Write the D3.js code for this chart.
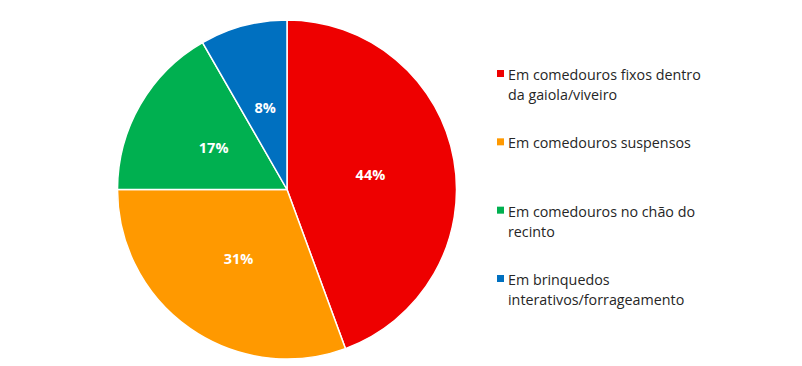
<!DOCTYPE html>
<html>
<head>
<meta charset="utf-8">
<script src="https://cdn.jsdelivr.net/npm/d3@7"></script>
<style>
  html, body { margin: 0; padding: 0; background: #fff; }
  svg { display: block; }
  .slice-label { font-family: "Open Sans", Inter, sans-serif; font-weight: 700; font-size: 14.5px; fill: #fff; }
  .legend-text { font-family: "Open Sans", Inter, sans-serif; font-size: 14.3px; fill: #262626; }
</style>
</head>
<body>
<svg id="chart"></svg>
<script>
/* ===============================
   Data
================================ */

const categories = [
  ["Em comedouros fixos dentro", "da gaiola/viveiro"],
  ["Em comedouros suspensos"],
  ["Em comedouros no chão do", "recinto"],
  ["Em brinquedos", "interativos/forrageamento"]
];
const shares = [44.4, 30.6, 16.7, 8.3];
const colors = ["#EE0000", "#FF9900", "#00B050", "#0070C0"];

/* ===============================
   Setup
================================ */

const width = 802;
const height = 366;
const cx = 287, cy = 189.5, radius = 169.5;

const svg = d3.select("#chart")
  .attr("width", width)
  .attr("height", height);

const total = d3.sum(shares);
const pie = d3.pie().sort(null)(shares);
const arc = d3.arc().innerRadius(0).outerRadius(radius);
const labelArc = d3.arc().innerRadius(radius * 0.5).outerRadius(radius * 0.5);

const g = svg.append("g").attr("transform", `translate(${cx},${cy})`);

/* -------- SLICES -------- */

g.selectAll("path.slice")
  .data(pie)
  .join("path")
  .attr("class", "slice")
  .attr("d", arc)
  .attr("fill", (d, i) => colors[i])
  .attr("stroke", "#fff")
  .attr("stroke-width", 1.5)
  .attr("stroke-linejoin", "round");

g.selectAll("text.slice-label")
  .data(pie)
  .join("text")
  .attr("class", "slice-label")
  .attr("text-anchor", "middle")
  .attr("dominant-baseline", "central")
  .attr("transform", d => `translate(${labelArc.centroid(d)})`)
  .text(d => Math.round(d.data / total * 100) + "%");

/* -------- LEGEND -------- */

// first line of each entry sits on an even step
const legendY = d3.scalePoint()
  .domain(d3.range(categories.length))
  .range([74, 279]);

const lineH = 20;

const item = svg.selectAll("g.legend")
  .data(categories)
  .join("g")
  .attr("class", "legend")
  .attr("transform", (d, i) => `translate(497,${legendY(i)})`);

item.append("rect")
  .attr("x", 0)
  .attr("y", -4)
  .attr("width", 7)
  .attr("height", 7)
  .attr("fill", (d, i) => colors[i]);

item.each(function(lines) {
  const t = d3.select(this).append("text")
    .attr("class", "legend-text")
    .attr("x", 11)
    .attr("y", 0)
    .attr("dominant-baseline", "central");
  lines.forEach((s, k) => {
    t.append("tspan").attr("x", 11).attr("dy", k === 0 ? 0 : lineH).text(s);
  });
});
</script>
</body>
</html>
